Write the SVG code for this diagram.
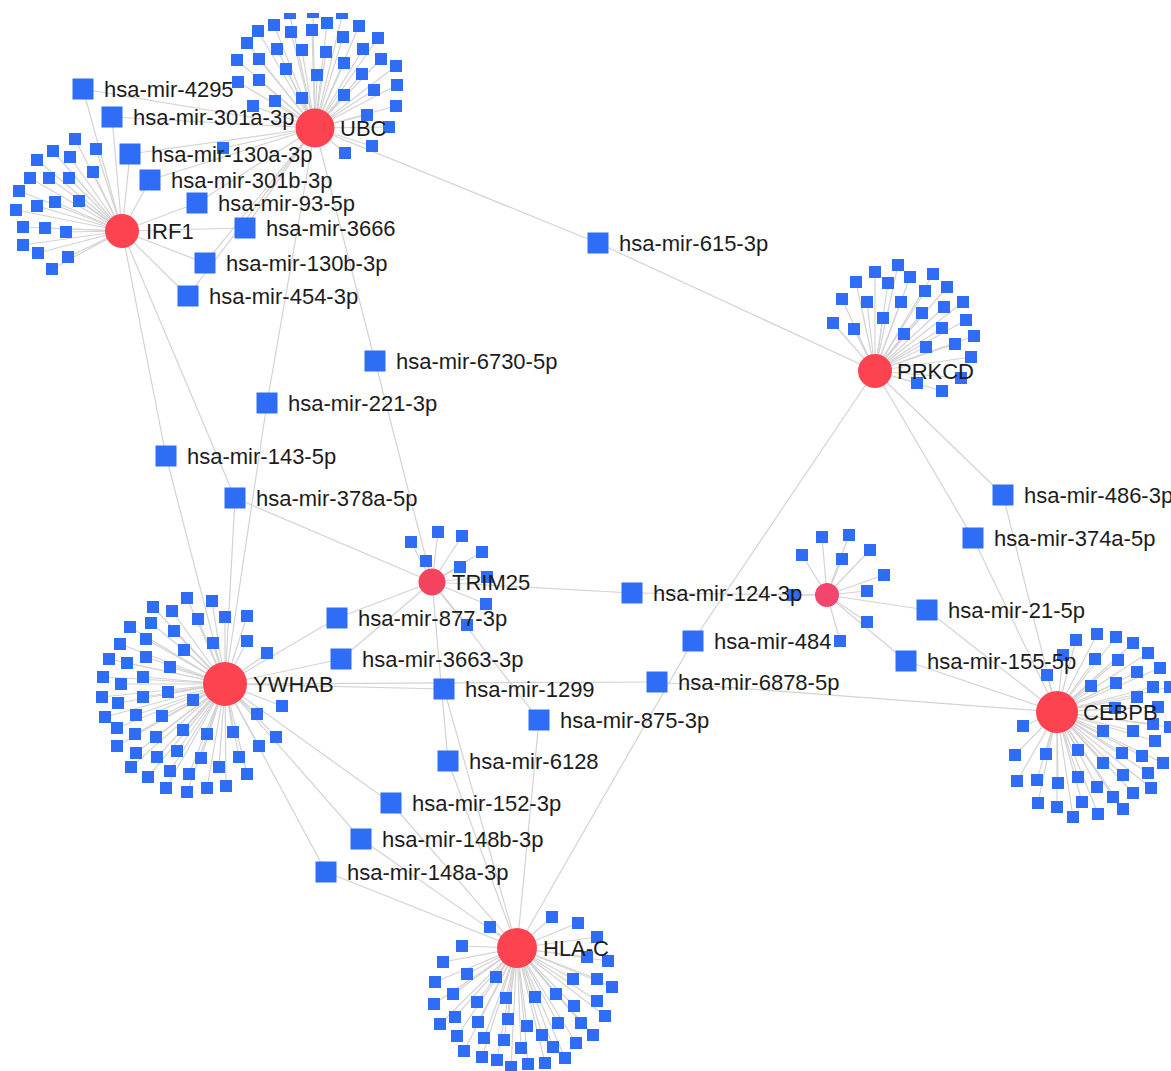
<svg xmlns="http://www.w3.org/2000/svg" xmlns:xlink="http://www.w3.org/1999/xlink" width="1171" height="1071" viewBox="0 0 1171 1071">
<style>
.e line{stroke:#d3d3d3;stroke-width:1.2}
.s{fill:#2f6df6}
.hub{fill:#fd434f}
.hub2{fill:#f3435f}
.hub3{fill:#f2466e}
text{font-family:"Liberation Sans",Arial,Helvetica,sans-serif;font-size:22px;fill:#1c1c1c}
</style>
<defs>
<rect id="sat" class="s" x="-6" y="-6" width="12" height="12"/>
<rect id="mir" class="s" x="-10.5" y="-10.5" width="21" height="21"/>
</defs>
<rect width="1171" height="1071" fill="#ffffff"/>

<!-- connectors -->
<g id="edges" class="e">
<!-- gene to labelled miRNA -->
<line x1="315" y1="128" x2="83" y2="89"/>
<line x1="315" y1="128" x2="112" y2="117"/>
<line x1="315" y1="128" x2="130" y2="154"/>
<line x1="315" y1="128" x2="150" y2="180"/>
<line x1="315" y1="128" x2="197" y2="203"/>
<line x1="315" y1="128" x2="245" y2="228"/>
<line x1="315" y1="128" x2="205" y2="263"/>
<line x1="315" y1="128" x2="188" y2="296"/>
<line x1="315" y1="128" x2="375" y2="361"/>
<line x1="315" y1="128" x2="267" y2="403"/>
<line x1="315" y1="128" x2="598" y2="243"/>
<line x1="122" y1="231" x2="83" y2="89"/>
<line x1="122" y1="231" x2="112" y2="117"/>
<line x1="122" y1="231" x2="130" y2="154"/>
<line x1="122" y1="231" x2="150" y2="180"/>
<line x1="122" y1="231" x2="197" y2="203"/>
<line x1="122" y1="231" x2="245" y2="228"/>
<line x1="122" y1="231" x2="205" y2="263"/>
<line x1="122" y1="231" x2="188" y2="296"/>
<line x1="122" y1="231" x2="166" y2="456"/>
<line x1="122" y1="231" x2="235" y2="498"/>
<line x1="875" y1="371" x2="598" y2="243"/>
<line x1="875" y1="371" x2="693" y2="641"/>
<line x1="875" y1="371" x2="1003" y2="495"/>
<line x1="875" y1="371" x2="973" y2="538"/>
<line x1="1057" y1="712" x2="1003" y2="495"/>
<line x1="1057" y1="712" x2="973" y2="538"/>
<line x1="1057" y1="712" x2="927" y2="610"/>
<line x1="1057" y1="712" x2="906" y2="661"/>
<line x1="1057" y1="712" x2="657" y2="682"/>
<line x1="827" y1="595" x2="632" y2="593"/>
<line x1="827" y1="595" x2="927" y2="610"/>
<line x1="827" y1="595" x2="906" y2="661"/>
<line x1="432" y1="582" x2="375" y2="361"/>
<line x1="432" y1="582" x2="235" y2="498"/>
<line x1="432" y1="582" x2="632" y2="593"/>
<line x1="432" y1="582" x2="337" y2="618"/>
<line x1="432" y1="582" x2="341" y2="659"/>
<line x1="432" y1="582" x2="448" y2="761"/>
<line x1="432" y1="582" x2="539" y2="720"/>
<line x1="225" y1="684" x2="267" y2="403"/>
<line x1="225" y1="684" x2="166" y2="456"/>
<line x1="225" y1="684" x2="235" y2="498"/>
<line x1="225" y1="684" x2="337" y2="618"/>
<line x1="225" y1="684" x2="341" y2="659"/>
<line x1="225" y1="684" x2="444" y2="689"/>
<line x1="225" y1="684" x2="657" y2="682"/>
<line x1="225" y1="684" x2="391" y2="803"/>
<line x1="225" y1="684" x2="361" y2="839"/>
<line x1="225" y1="684" x2="326" y2="872"/>
<line x1="517" y1="948" x2="693" y2="641"/>
<line x1="517" y1="948" x2="539" y2="720"/>
<line x1="517" y1="948" x2="444" y2="689"/>
<line x1="517" y1="948" x2="448" y2="761"/>
<line x1="517" y1="948" x2="391" y2="803"/>
<line x1="517" y1="948" x2="361" y2="839"/>
<line x1="517" y1="948" x2="326" y2="872"/>
<!-- UBC spokes -->
<line x1="315" y1="128" x2="290" y2="16"/>
<line x1="315" y1="128" x2="313" y2="15"/>
<line x1="315" y1="128" x2="342" y2="16"/>
<line x1="315" y1="128" x2="274" y2="25"/>
<line x1="315" y1="128" x2="258" y2="31"/>
<line x1="315" y1="128" x2="291" y2="32"/>
<line x1="315" y1="128" x2="312" y2="30"/>
<line x1="315" y1="128" x2="327" y2="23"/>
<line x1="315" y1="128" x2="359" y2="26"/>
<line x1="315" y1="128" x2="247" y2="43"/>
<line x1="315" y1="128" x2="277" y2="49"/>
<line x1="315" y1="128" x2="302" y2="50"/>
<line x1="315" y1="128" x2="326" y2="52"/>
<line x1="315" y1="128" x2="343" y2="37"/>
<line x1="315" y1="128" x2="363" y2="49"/>
<line x1="315" y1="128" x2="378" y2="38"/>
<line x1="315" y1="128" x2="237" y2="60"/>
<line x1="315" y1="128" x2="259" y2="59"/>
<line x1="315" y1="128" x2="286" y2="69"/>
<line x1="315" y1="128" x2="317" y2="75"/>
<line x1="315" y1="128" x2="344" y2="63"/>
<line x1="315" y1="128" x2="362" y2="74"/>
<line x1="315" y1="128" x2="381" y2="59"/>
<line x1="315" y1="128" x2="396" y2="66"/>
<line x1="315" y1="128" x2="238" y2="82"/>
<line x1="315" y1="128" x2="259" y2="80"/>
<line x1="315" y1="128" x2="275" y2="101"/>
<line x1="315" y1="128" x2="302" y2="98"/>
<line x1="315" y1="128" x2="344" y2="95"/>
<line x1="315" y1="128" x2="374" y2="90"/>
<line x1="315" y1="128" x2="397" y2="85"/>
<line x1="315" y1="128" x2="253" y2="106"/>
<line x1="315" y1="128" x2="367" y2="115"/>
<line x1="315" y1="128" x2="396" y2="106"/>
<line x1="315" y1="128" x2="389" y2="127"/>
<line x1="315" y1="128" x2="372" y2="146"/>
<line x1="315" y1="128" x2="345" y2="153"/>
<line x1="315" y1="128" x2="223" y2="148"/>
<!-- IRF1 spokes -->
<line x1="122" y1="231" x2="75" y2="139"/>
<line x1="122" y1="231" x2="96" y2="149"/>
<line x1="122" y1="231" x2="53" y2="151"/>
<line x1="122" y1="231" x2="70" y2="157"/>
<line x1="122" y1="231" x2="37" y2="160"/>
<line x1="122" y1="231" x2="93" y2="172"/>
<line x1="122" y1="231" x2="30" y2="178"/>
<line x1="122" y1="231" x2="49" y2="178"/>
<line x1="122" y1="231" x2="69" y2="178"/>
<line x1="122" y1="231" x2="19" y2="191"/>
<line x1="122" y1="231" x2="79" y2="201"/>
<line x1="122" y1="231" x2="55" y2="202"/>
<line x1="122" y1="231" x2="37" y2="206"/>
<line x1="122" y1="231" x2="16" y2="210"/>
<line x1="122" y1="231" x2="23" y2="227"/>
<line x1="122" y1="231" x2="45" y2="228"/>
<line x1="122" y1="231" x2="66" y2="232"/>
<line x1="122" y1="231" x2="23" y2="245"/>
<line x1="122" y1="231" x2="38" y2="253"/>
<line x1="122" y1="231" x2="68" y2="257"/>
<line x1="122" y1="231" x2="52" y2="269"/>
<!-- PRKCD spokes -->
<line x1="875" y1="371" x2="898" y2="265"/>
<line x1="875" y1="371" x2="875" y2="272"/>
<line x1="875" y1="371" x2="910" y2="277"/>
<line x1="875" y1="371" x2="933" y2="274"/>
<line x1="875" y1="371" x2="856" y2="282"/>
<line x1="875" y1="371" x2="888" y2="283"/>
<line x1="875" y1="371" x2="947" y2="287"/>
<line x1="875" y1="371" x2="925" y2="291"/>
<line x1="875" y1="371" x2="842" y2="299"/>
<line x1="875" y1="371" x2="867" y2="302"/>
<line x1="875" y1="371" x2="901" y2="302"/>
<line x1="875" y1="371" x2="963" y2="302"/>
<line x1="875" y1="371" x2="944" y2="307"/>
<line x1="875" y1="371" x2="922" y2="313"/>
<line x1="875" y1="371" x2="883" y2="318"/>
<line x1="875" y1="371" x2="966" y2="320"/>
<line x1="875" y1="371" x2="833" y2="323"/>
<line x1="875" y1="371" x2="854" y2="329"/>
<line x1="875" y1="371" x2="942" y2="328"/>
<line x1="875" y1="371" x2="904" y2="334"/>
<line x1="875" y1="371" x2="974" y2="336"/>
<line x1="875" y1="371" x2="955" y2="344"/>
<line x1="875" y1="371" x2="926" y2="347"/>
<line x1="875" y1="371" x2="971" y2="357"/>
<line x1="875" y1="371" x2="961" y2="378"/>
<line x1="875" y1="371" x2="917" y2="383"/>
<line x1="875" y1="371" x2="942" y2="391"/>
<!-- TRIM25 spokes -->
<line x1="432" y1="582" x2="411" y2="542"/>
<line x1="432" y1="582" x2="438" y2="532"/>
<line x1="432" y1="582" x2="462" y2="536"/>
<line x1="432" y1="582" x2="482" y2="552"/>
<line x1="432" y1="582" x2="426" y2="561"/>
<line x1="432" y1="582" x2="460" y2="567"/>
<line x1="432" y1="582" x2="487" y2="577"/>
<line x1="432" y1="582" x2="486" y2="604"/>
<line x1="432" y1="582" x2="467" y2="625"/>
<!-- unlabelled hub spokes -->
<line x1="827" y1="595" x2="822" y2="537"/>
<line x1="827" y1="595" x2="849" y2="535"/>
<line x1="827" y1="595" x2="802" y2="555"/>
<line x1="827" y1="595" x2="870" y2="550"/>
<line x1="827" y1="595" x2="842" y2="559"/>
<line x1="827" y1="595" x2="884" y2="575"/>
<line x1="827" y1="595" x2="867" y2="591"/>
<line x1="827" y1="595" x2="793" y2="595"/>
<line x1="827" y1="595" x2="867" y2="622"/>
<line x1="827" y1="595" x2="840" y2="641"/>
<!-- YWHAB spokes -->
<line x1="225" y1="684" x2="187" y2="598"/>
<line x1="225" y1="684" x2="212" y2="601"/>
<line x1="225" y1="684" x2="153" y2="607"/>
<line x1="225" y1="684" x2="172" y2="611"/>
<line x1="225" y1="684" x2="198" y2="619"/>
<line x1="225" y1="684" x2="225" y2="617"/>
<line x1="225" y1="684" x2="247" y2="616"/>
<line x1="225" y1="684" x2="130" y2="627"/>
<line x1="225" y1="684" x2="151" y2="623"/>
<line x1="225" y1="684" x2="174" y2="631"/>
<line x1="225" y1="684" x2="146" y2="639"/>
<line x1="225" y1="684" x2="120" y2="644"/>
<line x1="225" y1="684" x2="213" y2="643"/>
<line x1="225" y1="684" x2="247" y2="641"/>
<line x1="225" y1="684" x2="184" y2="650"/>
<line x1="225" y1="684" x2="267" y2="653"/>
<line x1="225" y1="684" x2="109" y2="659"/>
<line x1="225" y1="684" x2="127" y2="663"/>
<line x1="225" y1="684" x2="146" y2="657"/>
<line x1="225" y1="684" x2="170" y2="667"/>
<line x1="225" y1="684" x2="103" y2="677"/>
<line x1="225" y1="684" x2="121" y2="684"/>
<line x1="225" y1="684" x2="143" y2="677"/>
<line x1="225" y1="684" x2="168" y2="692"/>
<line x1="225" y1="684" x2="193" y2="700"/>
<line x1="225" y1="684" x2="102" y2="697"/>
<line x1="225" y1="684" x2="118" y2="703"/>
<line x1="225" y1="684" x2="143" y2="697"/>
<line x1="225" y1="684" x2="282" y2="706"/>
<line x1="225" y1="684" x2="257" y2="714"/>
<line x1="225" y1="684" x2="105" y2="717"/>
<line x1="225" y1="684" x2="136" y2="715"/>
<line x1="225" y1="684" x2="162" y2="716"/>
<line x1="225" y1="684" x2="117" y2="728"/>
<line x1="225" y1="684" x2="183" y2="730"/>
<line x1="225" y1="684" x2="207" y2="734"/>
<line x1="225" y1="684" x2="233" y2="732"/>
<line x1="225" y1="684" x2="276" y2="737"/>
<line x1="225" y1="684" x2="135" y2="734"/>
<line x1="225" y1="684" x2="156" y2="737"/>
<line x1="225" y1="684" x2="117" y2="746"/>
<line x1="225" y1="684" x2="259" y2="746"/>
<line x1="225" y1="684" x2="136" y2="753"/>
<line x1="225" y1="684" x2="157" y2="757"/>
<line x1="225" y1="684" x2="177" y2="751"/>
<line x1="225" y1="684" x2="201" y2="758"/>
<line x1="225" y1="684" x2="239" y2="757"/>
<line x1="225" y1="684" x2="131" y2="767"/>
<line x1="225" y1="684" x2="170" y2="771"/>
<line x1="225" y1="684" x2="219" y2="767"/>
<line x1="225" y1="684" x2="148" y2="777"/>
<line x1="225" y1="684" x2="189" y2="774"/>
<line x1="225" y1="684" x2="247" y2="774"/>
<line x1="225" y1="684" x2="166" y2="788"/>
<line x1="225" y1="684" x2="187" y2="792"/>
<line x1="225" y1="684" x2="207" y2="788"/>
<line x1="225" y1="684" x2="226" y2="786"/>
<!-- CEBPB spokes -->
<line x1="1057" y1="712" x2="1097" y2="634"/>
<line x1="1057" y1="712" x2="1076" y2="640"/>
<line x1="1057" y1="712" x2="1116" y2="637"/>
<line x1="1057" y1="712" x2="1133" y2="643"/>
<line x1="1057" y1="712" x2="1148" y2="653"/>
<line x1="1057" y1="712" x2="1063" y2="655"/>
<line x1="1057" y1="712" x2="1095" y2="659"/>
<line x1="1057" y1="712" x2="1118" y2="660"/>
<line x1="1057" y1="712" x2="1160" y2="668"/>
<line x1="1057" y1="712" x2="1137" y2="672"/>
<line x1="1057" y1="712" x2="1047" y2="675"/>
<line x1="1057" y1="712" x2="1091" y2="686"/>
<line x1="1057" y1="712" x2="1116" y2="683"/>
<line x1="1057" y1="712" x2="1153" y2="687"/>
<line x1="1057" y1="712" x2="1170" y2="687"/>
<line x1="1057" y1="712" x2="1137" y2="697"/>
<line x1="1057" y1="712" x2="1115" y2="708"/>
<line x1="1057" y1="712" x2="1158" y2="707"/>
<line x1="1057" y1="712" x2="1153" y2="724"/>
<line x1="1057" y1="712" x2="1103" y2="731"/>
<line x1="1057" y1="712" x2="1133" y2="731"/>
<line x1="1057" y1="712" x2="1170" y2="727"/>
<line x1="1057" y1="712" x2="1023" y2="726"/>
<line x1="1057" y1="712" x2="1155" y2="741"/>
<line x1="1057" y1="712" x2="1078" y2="750"/>
<line x1="1057" y1="712" x2="1046" y2="754"/>
<line x1="1057" y1="712" x2="1122" y2="753"/>
<line x1="1057" y1="712" x2="1142" y2="756"/>
<line x1="1057" y1="712" x2="1015" y2="755"/>
<line x1="1057" y1="712" x2="1163" y2="763"/>
<line x1="1057" y1="712" x2="1103" y2="763"/>
<line x1="1057" y1="712" x2="1123" y2="775"/>
<line x1="1057" y1="712" x2="1148" y2="773"/>
<line x1="1057" y1="712" x2="1078" y2="777"/>
<line x1="1057" y1="712" x2="1037" y2="780"/>
<line x1="1057" y1="712" x2="1017" y2="781"/>
<line x1="1057" y1="712" x2="1058" y2="783"/>
<line x1="1057" y1="712" x2="1097" y2="787"/>
<line x1="1057" y1="712" x2="1133" y2="793"/>
<line x1="1057" y1="712" x2="1151" y2="788"/>
<line x1="1057" y1="712" x2="1113" y2="797"/>
<line x1="1057" y1="712" x2="1082" y2="802"/>
<line x1="1057" y1="712" x2="1038" y2="803"/>
<line x1="1057" y1="712" x2="1057" y2="807"/>
<line x1="1057" y1="712" x2="1123" y2="809"/>
<line x1="1057" y1="712" x2="1098" y2="814"/>
<line x1="1057" y1="712" x2="1073" y2="817"/>
<!-- HLA-C spokes -->
<line x1="517" y1="948" x2="552" y2="917"/>
<line x1="517" y1="948" x2="578" y2="923"/>
<line x1="517" y1="948" x2="490" y2="927"/>
<line x1="517" y1="948" x2="597" y2="937"/>
<line x1="517" y1="948" x2="462" y2="946"/>
<line x1="517" y1="948" x2="587" y2="957"/>
<line x1="517" y1="948" x2="608" y2="961"/>
<line x1="517" y1="948" x2="443" y2="962"/>
<line x1="517" y1="948" x2="467" y2="974"/>
<line x1="517" y1="948" x2="496" y2="977"/>
<line x1="517" y1="948" x2="573" y2="979"/>
<line x1="517" y1="948" x2="597" y2="979"/>
<line x1="517" y1="948" x2="435" y2="982"/>
<line x1="517" y1="948" x2="612" y2="987"/>
<line x1="517" y1="948" x2="453" y2="994"/>
<line x1="517" y1="948" x2="556" y2="994"/>
<line x1="517" y1="948" x2="506" y2="998"/>
<line x1="517" y1="948" x2="535" y2="997"/>
<line x1="517" y1="948" x2="477" y2="1002"/>
<line x1="517" y1="948" x2="434" y2="1004"/>
<line x1="517" y1="948" x2="597" y2="1001"/>
<line x1="517" y1="948" x2="574" y2="1006"/>
<line x1="517" y1="948" x2="605" y2="1016"/>
<line x1="517" y1="948" x2="455" y2="1017"/>
<line x1="517" y1="948" x2="508" y2="1019"/>
<line x1="517" y1="948" x2="478" y2="1022"/>
<line x1="517" y1="948" x2="527" y2="1026"/>
<line x1="517" y1="948" x2="558" y2="1023"/>
<line x1="517" y1="948" x2="581" y2="1023"/>
<line x1="517" y1="948" x2="440" y2="1024"/>
<line x1="517" y1="948" x2="457" y2="1036"/>
<line x1="517" y1="948" x2="542" y2="1035"/>
<line x1="517" y1="948" x2="593" y2="1035"/>
<line x1="517" y1="948" x2="484" y2="1038"/>
<line x1="517" y1="948" x2="504" y2="1040"/>
<line x1="517" y1="948" x2="464" y2="1051"/>
<line x1="517" y1="948" x2="521" y2="1048"/>
<line x1="517" y1="948" x2="553" y2="1047"/>
<line x1="517" y1="948" x2="576" y2="1043"/>
<line x1="517" y1="948" x2="482" y2="1057"/>
<line x1="517" y1="948" x2="497" y2="1060"/>
<line x1="517" y1="948" x2="528" y2="1064"/>
<line x1="517" y1="948" x2="545" y2="1063"/>
<line x1="517" y1="948" x2="565" y2="1058"/>
<line x1="517" y1="948" x2="511" y2="1067"/>
</g>

<!-- single-target miRNAs around each hub -->
<g id="ubc-targets">
<g id="ubc-t01"><rect class="s" x="284" y="13" width="12" height="6"/></g>
<g id="ubc-t02"><rect class="s" x="307" y="13" width="12" height="5"/></g>
<g id="ubc-t03"><rect class="s" x="336" y="13" width="12" height="6"/></g>
<g id="ubc-t04"><use href="#sat" x="274" y="25"/></g>
<g id="ubc-t05"><use href="#sat" x="258" y="31"/></g>
<g id="ubc-t06"><use href="#sat" x="291" y="32"/></g>
<g id="ubc-t07"><use href="#sat" x="312" y="30"/></g>
<g id="ubc-t08"><use href="#sat" x="327" y="23"/></g>
<g id="ubc-t09"><use href="#sat" x="359" y="26"/></g>
<g id="ubc-t10"><use href="#sat" x="247" y="43"/></g>
<g id="ubc-t11"><use href="#sat" x="277" y="49"/></g>
<g id="ubc-t12"><use href="#sat" x="302" y="50"/></g>
<g id="ubc-t13"><use href="#sat" x="326" y="52"/></g>
<g id="ubc-t14"><use href="#sat" x="343" y="37"/></g>
<g id="ubc-t15"><use href="#sat" x="363" y="49"/></g>
<g id="ubc-t16"><use href="#sat" x="378" y="38"/></g>
<g id="ubc-t17"><use href="#sat" x="237" y="60"/></g>
<g id="ubc-t18"><use href="#sat" x="259" y="59"/></g>
<g id="ubc-t19"><use href="#sat" x="286" y="69"/></g>
<g id="ubc-t20"><use href="#sat" x="317" y="75"/></g>
<g id="ubc-t21"><use href="#sat" x="344" y="63"/></g>
<g id="ubc-t22"><use href="#sat" x="362" y="74"/></g>
<g id="ubc-t23"><use href="#sat" x="381" y="59"/></g>
<g id="ubc-t24"><use href="#sat" x="396" y="66"/></g>
<g id="ubc-t25"><use href="#sat" x="238" y="82"/></g>
<g id="ubc-t26"><use href="#sat" x="259" y="80"/></g>
<g id="ubc-t27"><use href="#sat" x="275" y="101"/></g>
<g id="ubc-t28"><use href="#sat" x="302" y="98"/></g>
<g id="ubc-t29"><use href="#sat" x="344" y="95"/></g>
<g id="ubc-t30"><use href="#sat" x="374" y="90"/></g>
<g id="ubc-t31"><use href="#sat" x="397" y="85"/></g>
<g id="ubc-t32"><use href="#sat" x="253" y="106"/></g>
<g id="ubc-t33"><use href="#sat" x="367" y="115"/></g>
<g id="ubc-t34"><use href="#sat" x="396" y="106"/></g>
<g id="ubc-t35"><use href="#sat" x="389" y="127"/></g>
<g id="ubc-t36"><use href="#sat" x="372" y="146"/></g>
<g id="ubc-t37"><use href="#sat" x="345" y="153"/></g>
<g id="ubc-t38"><use href="#sat" x="223" y="148"/></g>
</g>

<g id="irf1-targets">
<g id="irf1-t01"><use href="#sat" x="75" y="139"/></g>
<g id="irf1-t02"><use href="#sat" x="96" y="149"/></g>
<g id="irf1-t03"><use href="#sat" x="53" y="151"/></g>
<g id="irf1-t04"><use href="#sat" x="70" y="157"/></g>
<g id="irf1-t05"><use href="#sat" x="37" y="160"/></g>
<g id="irf1-t06"><use href="#sat" x="93" y="172"/></g>
<g id="irf1-t07"><use href="#sat" x="30" y="178"/></g>
<g id="irf1-t08"><use href="#sat" x="49" y="178"/></g>
<g id="irf1-t09"><use href="#sat" x="69" y="178"/></g>
<g id="irf1-t10"><use href="#sat" x="19" y="191"/></g>
<g id="irf1-t11"><use href="#sat" x="79" y="201"/></g>
<g id="irf1-t12"><use href="#sat" x="55" y="202"/></g>
<g id="irf1-t13"><use href="#sat" x="37" y="206"/></g>
<g id="irf1-t14"><use href="#sat" x="16" y="210"/></g>
<g id="irf1-t15"><use href="#sat" x="23" y="227"/></g>
<g id="irf1-t16"><use href="#sat" x="45" y="228"/></g>
<g id="irf1-t17"><use href="#sat" x="66" y="232"/></g>
<g id="irf1-t18"><use href="#sat" x="23" y="245"/></g>
<g id="irf1-t19"><use href="#sat" x="38" y="253"/></g>
<g id="irf1-t20"><use href="#sat" x="68" y="257"/></g>
<g id="irf1-t21"><use href="#sat" x="52" y="269"/></g>
</g>

<g id="prkcd-targets">
<g id="prkcd-t01"><use href="#sat" x="898" y="265"/></g>
<g id="prkcd-t02"><use href="#sat" x="875" y="272"/></g>
<g id="prkcd-t03"><use href="#sat" x="910" y="277"/></g>
<g id="prkcd-t04"><use href="#sat" x="933" y="274"/></g>
<g id="prkcd-t05"><use href="#sat" x="856" y="282"/></g>
<g id="prkcd-t06"><use href="#sat" x="888" y="283"/></g>
<g id="prkcd-t07"><use href="#sat" x="947" y="287"/></g>
<g id="prkcd-t08"><use href="#sat" x="925" y="291"/></g>
<g id="prkcd-t09"><use href="#sat" x="842" y="299"/></g>
<g id="prkcd-t10"><use href="#sat" x="867" y="302"/></g>
<g id="prkcd-t11"><use href="#sat" x="901" y="302"/></g>
<g id="prkcd-t12"><use href="#sat" x="963" y="302"/></g>
<g id="prkcd-t13"><use href="#sat" x="944" y="307"/></g>
<g id="prkcd-t14"><use href="#sat" x="922" y="313"/></g>
<g id="prkcd-t15"><use href="#sat" x="883" y="318"/></g>
<g id="prkcd-t16"><use href="#sat" x="966" y="320"/></g>
<g id="prkcd-t17"><use href="#sat" x="833" y="323"/></g>
<g id="prkcd-t18"><use href="#sat" x="854" y="329"/></g>
<g id="prkcd-t19"><use href="#sat" x="942" y="328"/></g>
<g id="prkcd-t20"><use href="#sat" x="904" y="334"/></g>
<g id="prkcd-t21"><use href="#sat" x="974" y="336"/></g>
<g id="prkcd-t22"><use href="#sat" x="955" y="344"/></g>
<g id="prkcd-t23"><use href="#sat" x="926" y="347"/></g>
<g id="prkcd-t24"><use href="#sat" x="971" y="357"/></g>
<g id="prkcd-t25"><use href="#sat" x="961" y="378"/></g>
<g id="prkcd-t26"><use href="#sat" x="917" y="383"/></g>
<g id="prkcd-t27"><use href="#sat" x="942" y="391"/></g>
</g>

<g id="trim25-targets">
<g id="trim25-t1"><use href="#sat" x="411" y="542"/></g>
<g id="trim25-t2"><use href="#sat" x="438" y="532"/></g>
<g id="trim25-t3"><use href="#sat" x="462" y="536"/></g>
<g id="trim25-t4"><use href="#sat" x="482" y="552"/></g>
<g id="trim25-t5"><use href="#sat" x="426" y="561"/></g>
<g id="trim25-t6"><use href="#sat" x="460" y="567"/></g>
<g id="trim25-t7"><use href="#sat" x="487" y="577"/></g>
<g id="trim25-t8"><use href="#sat" x="486" y="604"/></g>
<g id="trim25-t9"><use href="#sat" x="467" y="625"/></g>
</g>

<g id="hub-unlabelled-targets">
<g id="hubu-t01"><use href="#sat" x="822" y="537"/></g>
<g id="hubu-t02"><use href="#sat" x="849" y="535"/></g>
<g id="hubu-t03"><use href="#sat" x="802" y="555"/></g>
<g id="hubu-t04"><use href="#sat" x="870" y="550"/></g>
<g id="hubu-t05"><use href="#sat" x="842" y="559"/></g>
<g id="hubu-t06"><use href="#sat" x="884" y="575"/></g>
<g id="hubu-t07"><use href="#sat" x="867" y="591"/></g>
<g id="hubu-t08"><use href="#sat" x="793" y="595"/></g>
<g id="hubu-t09"><use href="#sat" x="867" y="622"/></g>
<g id="hubu-t10"><use href="#sat" x="840" y="641"/></g>
</g>

<g id="ywhab-targets">
<g id="ywhab-t01"><use href="#sat" x="187" y="598"/></g>
<g id="ywhab-t02"><use href="#sat" x="212" y="601"/></g>
<g id="ywhab-t03"><use href="#sat" x="153" y="607"/></g>
<g id="ywhab-t04"><use href="#sat" x="172" y="611"/></g>
<g id="ywhab-t05"><use href="#sat" x="198" y="619"/></g>
<g id="ywhab-t06"><use href="#sat" x="225" y="617"/></g>
<g id="ywhab-t07"><use href="#sat" x="247" y="616"/></g>
<g id="ywhab-t08"><use href="#sat" x="130" y="627"/></g>
<g id="ywhab-t09"><use href="#sat" x="151" y="623"/></g>
<g id="ywhab-t10"><use href="#sat" x="174" y="631"/></g>
<g id="ywhab-t11"><use href="#sat" x="146" y="639"/></g>
<g id="ywhab-t12"><use href="#sat" x="120" y="644"/></g>
<g id="ywhab-t13"><use href="#sat" x="213" y="643"/></g>
<g id="ywhab-t14"><use href="#sat" x="247" y="641"/></g>
<g id="ywhab-t15"><use href="#sat" x="184" y="650"/></g>
<g id="ywhab-t16"><use href="#sat" x="267" y="653"/></g>
<g id="ywhab-t17"><use href="#sat" x="109" y="659"/></g>
<g id="ywhab-t18"><use href="#sat" x="127" y="663"/></g>
<g id="ywhab-t19"><use href="#sat" x="146" y="657"/></g>
<g id="ywhab-t20"><use href="#sat" x="170" y="667"/></g>
<g id="ywhab-t21"><use href="#sat" x="103" y="677"/></g>
<g id="ywhab-t22"><use href="#sat" x="121" y="684"/></g>
<g id="ywhab-t23"><use href="#sat" x="143" y="677"/></g>
<g id="ywhab-t24"><use href="#sat" x="168" y="692"/></g>
<g id="ywhab-t25"><use href="#sat" x="193" y="700"/></g>
<g id="ywhab-t26"><use href="#sat" x="102" y="697"/></g>
<g id="ywhab-t27"><use href="#sat" x="118" y="703"/></g>
<g id="ywhab-t28"><use href="#sat" x="143" y="697"/></g>
<g id="ywhab-t29"><use href="#sat" x="282" y="706"/></g>
<g id="ywhab-t30"><use href="#sat" x="257" y="714"/></g>
<g id="ywhab-t31"><use href="#sat" x="105" y="717"/></g>
<g id="ywhab-t32"><use href="#sat" x="136" y="715"/></g>
<g id="ywhab-t33"><use href="#sat" x="162" y="716"/></g>
<g id="ywhab-t34"><use href="#sat" x="117" y="728"/></g>
<g id="ywhab-t35"><use href="#sat" x="183" y="730"/></g>
<g id="ywhab-t36"><use href="#sat" x="207" y="734"/></g>
<g id="ywhab-t37"><use href="#sat" x="233" y="732"/></g>
<g id="ywhab-t38"><use href="#sat" x="276" y="737"/></g>
<g id="ywhab-t39"><use href="#sat" x="135" y="734"/></g>
<g id="ywhab-t40"><use href="#sat" x="156" y="737"/></g>
<g id="ywhab-t41"><use href="#sat" x="117" y="746"/></g>
<g id="ywhab-t42"><use href="#sat" x="259" y="746"/></g>
<g id="ywhab-t43"><use href="#sat" x="136" y="753"/></g>
<g id="ywhab-t44"><use href="#sat" x="157" y="757"/></g>
<g id="ywhab-t45"><use href="#sat" x="177" y="751"/></g>
<g id="ywhab-t46"><use href="#sat" x="201" y="758"/></g>
<g id="ywhab-t47"><use href="#sat" x="239" y="757"/></g>
<g id="ywhab-t48"><use href="#sat" x="131" y="767"/></g>
<g id="ywhab-t49"><use href="#sat" x="170" y="771"/></g>
<g id="ywhab-t50"><use href="#sat" x="219" y="767"/></g>
<g id="ywhab-t51"><use href="#sat" x="148" y="777"/></g>
<g id="ywhab-t52"><use href="#sat" x="189" y="774"/></g>
<g id="ywhab-t53"><use href="#sat" x="247" y="774"/></g>
<g id="ywhab-t54"><use href="#sat" x="166" y="788"/></g>
<g id="ywhab-t55"><use href="#sat" x="187" y="792"/></g>
<g id="ywhab-t56"><use href="#sat" x="207" y="788"/></g>
<g id="ywhab-t57"><use href="#sat" x="226" y="786"/></g>
</g>

<g id="cebpb-targets">
<g id="cebpb-t01"><use href="#sat" x="1097" y="634"/></g>
<g id="cebpb-t02"><use href="#sat" x="1076" y="640"/></g>
<g id="cebpb-t03"><use href="#sat" x="1116" y="637"/></g>
<g id="cebpb-t04"><use href="#sat" x="1133" y="643"/></g>
<g id="cebpb-t05"><use href="#sat" x="1148" y="653"/></g>
<g id="cebpb-t06"><use href="#sat" x="1063" y="655"/></g>
<g id="cebpb-t07"><use href="#sat" x="1095" y="659"/></g>
<g id="cebpb-t08"><use href="#sat" x="1118" y="660"/></g>
<g id="cebpb-t09"><use href="#sat" x="1160" y="668"/></g>
<g id="cebpb-t10"><use href="#sat" x="1137" y="672"/></g>
<g id="cebpb-t11"><use href="#sat" x="1047" y="675"/></g>
<g id="cebpb-t12"><use href="#sat" x="1091" y="686"/></g>
<g id="cebpb-t13"><use href="#sat" x="1116" y="683"/></g>
<g id="cebpb-t14"><use href="#sat" x="1153" y="687"/></g>
<g id="cebpb-t15"><use href="#sat" x="1170" y="687"/></g>
<g id="cebpb-t16"><use href="#sat" x="1137" y="697"/></g>
<g id="cebpb-t17"><use href="#sat" x="1115" y="708"/></g>
<g id="cebpb-t18"><use href="#sat" x="1158" y="707"/></g>
<g id="cebpb-t19"><use href="#sat" x="1153" y="724"/></g>
<g id="cebpb-t20"><use href="#sat" x="1103" y="731"/></g>
<g id="cebpb-t21"><use href="#sat" x="1133" y="731"/></g>
<g id="cebpb-t22"><use href="#sat" x="1170" y="727"/></g>
<g id="cebpb-t23"><use href="#sat" x="1023" y="726"/></g>
<g id="cebpb-t24"><use href="#sat" x="1155" y="741"/></g>
<g id="cebpb-t25"><use href="#sat" x="1078" y="750"/></g>
<g id="cebpb-t26"><use href="#sat" x="1046" y="754"/></g>
<g id="cebpb-t27"><use href="#sat" x="1122" y="753"/></g>
<g id="cebpb-t28"><use href="#sat" x="1142" y="756"/></g>
<g id="cebpb-t29"><use href="#sat" x="1015" y="755"/></g>
<g id="cebpb-t30"><use href="#sat" x="1163" y="763"/></g>
<g id="cebpb-t31"><use href="#sat" x="1103" y="763"/></g>
<g id="cebpb-t32"><use href="#sat" x="1123" y="775"/></g>
<g id="cebpb-t33"><use href="#sat" x="1148" y="773"/></g>
<g id="cebpb-t34"><use href="#sat" x="1078" y="777"/></g>
<g id="cebpb-t35"><use href="#sat" x="1037" y="780"/></g>
<g id="cebpb-t36"><use href="#sat" x="1017" y="781"/></g>
<g id="cebpb-t37"><use href="#sat" x="1058" y="783"/></g>
<g id="cebpb-t38"><use href="#sat" x="1097" y="787"/></g>
<g id="cebpb-t39"><use href="#sat" x="1133" y="793"/></g>
<g id="cebpb-t40"><use href="#sat" x="1151" y="788"/></g>
<g id="cebpb-t41"><use href="#sat" x="1113" y="797"/></g>
<g id="cebpb-t42"><use href="#sat" x="1082" y="802"/></g>
<g id="cebpb-t43"><use href="#sat" x="1038" y="803"/></g>
<g id="cebpb-t44"><use href="#sat" x="1057" y="807"/></g>
<g id="cebpb-t45"><use href="#sat" x="1123" y="809"/></g>
<g id="cebpb-t46"><use href="#sat" x="1098" y="814"/></g>
<g id="cebpb-t47"><use href="#sat" x="1073" y="817"/></g>
</g>

<g id="hlac-targets">
<g id="hlac-t01"><use href="#sat" x="552" y="917"/></g>
<g id="hlac-t02"><use href="#sat" x="578" y="923"/></g>
<g id="hlac-t03"><use href="#sat" x="490" y="927"/></g>
<g id="hlac-t04"><use href="#sat" x="597" y="937"/></g>
<g id="hlac-t05"><use href="#sat" x="462" y="946"/></g>
<g id="hlac-t06"><use href="#sat" x="587" y="957"/></g>
<g id="hlac-t07"><use href="#sat" x="608" y="961"/></g>
<g id="hlac-t08"><use href="#sat" x="443" y="962"/></g>
<g id="hlac-t09"><use href="#sat" x="467" y="974"/></g>
<g id="hlac-t10"><use href="#sat" x="496" y="977"/></g>
<g id="hlac-t11"><use href="#sat" x="573" y="979"/></g>
<g id="hlac-t12"><use href="#sat" x="597" y="979"/></g>
<g id="hlac-t13"><use href="#sat" x="435" y="982"/></g>
<g id="hlac-t14"><use href="#sat" x="612" y="987"/></g>
<g id="hlac-t15"><use href="#sat" x="453" y="994"/></g>
<g id="hlac-t16"><use href="#sat" x="556" y="994"/></g>
<g id="hlac-t17"><use href="#sat" x="506" y="998"/></g>
<g id="hlac-t18"><use href="#sat" x="535" y="997"/></g>
<g id="hlac-t19"><use href="#sat" x="477" y="1002"/></g>
<g id="hlac-t20"><use href="#sat" x="434" y="1004"/></g>
<g id="hlac-t21"><use href="#sat" x="597" y="1001"/></g>
<g id="hlac-t22"><use href="#sat" x="574" y="1006"/></g>
<g id="hlac-t23"><use href="#sat" x="605" y="1016"/></g>
<g id="hlac-t24"><use href="#sat" x="455" y="1017"/></g>
<g id="hlac-t25"><use href="#sat" x="508" y="1019"/></g>
<g id="hlac-t26"><use href="#sat" x="478" y="1022"/></g>
<g id="hlac-t27"><use href="#sat" x="527" y="1026"/></g>
<g id="hlac-t28"><use href="#sat" x="558" y="1023"/></g>
<g id="hlac-t29"><use href="#sat" x="581" y="1023"/></g>
<g id="hlac-t30"><use href="#sat" x="440" y="1024"/></g>
<g id="hlac-t31"><use href="#sat" x="457" y="1036"/></g>
<g id="hlac-t32"><use href="#sat" x="542" y="1035"/></g>
<g id="hlac-t33"><use href="#sat" x="593" y="1035"/></g>
<g id="hlac-t34"><use href="#sat" x="484" y="1038"/></g>
<g id="hlac-t35"><use href="#sat" x="504" y="1040"/></g>
<g id="hlac-t36"><use href="#sat" x="464" y="1051"/></g>
<g id="hlac-t37"><use href="#sat" x="521" y="1048"/></g>
<g id="hlac-t38"><use href="#sat" x="553" y="1047"/></g>
<g id="hlac-t39"><use href="#sat" x="576" y="1043"/></g>
<g id="hlac-t40"><use href="#sat" x="482" y="1057"/></g>
<g id="hlac-t41"><use href="#sat" x="497" y="1060"/></g>
<g id="hlac-t42"><use href="#sat" x="528" y="1064"/></g>
<g id="hlac-t43"><use href="#sat" x="545" y="1063"/></g>
<g id="hlac-t44"><use href="#sat" x="565" y="1058"/></g>
<g id="hlac-t45"><use href="#sat" x="511" y="1067"/></g>
</g>

<!-- shared miRNAs (labelled) -->
<g id="hsa-mir-4295"><use href="#mir" x="83" y="89"/><text x="104" y="96.5">hsa-mir-4295</text></g>
<g id="hsa-mir-301a-3p"><use href="#mir" x="112" y="117"/><text x="133" y="124.5">hsa-mir-301a-3p</text></g>
<g id="hsa-mir-130a-3p"><use href="#mir" x="130" y="154"/><text x="151" y="161.5">hsa-mir-130a-3p</text></g>
<g id="hsa-mir-301b-3p"><use href="#mir" x="150" y="180"/><text x="171" y="187.5">hsa-mir-301b-3p</text></g>
<g id="hsa-mir-93-5p"><use href="#mir" x="197" y="203"/><text x="218" y="210.5">hsa-mir-93-5p</text></g>
<g id="hsa-mir-3666"><use href="#mir" x="245" y="228"/><text x="266" y="235.5">hsa-mir-3666</text></g>
<g id="hsa-mir-130b-3p"><use href="#mir" x="205" y="263"/><text x="226" y="270.5">hsa-mir-130b-3p</text></g>
<g id="hsa-mir-454-3p"><use href="#mir" x="188" y="296"/><text x="209" y="303.5">hsa-mir-454-3p</text></g>
<g id="hsa-mir-615-3p"><use href="#mir" x="598" y="243"/><text x="619" y="250.5">hsa-mir-615-3p</text></g>
<g id="hsa-mir-6730-5p"><use href="#mir" x="375" y="361"/><text x="396" y="368.5">hsa-mir-6730-5p</text></g>
<g id="hsa-mir-221-3p"><use href="#mir" x="267" y="403"/><text x="288" y="410.5">hsa-mir-221-3p</text></g>
<g id="hsa-mir-143-5p"><use href="#mir" x="166" y="456"/><text x="187" y="463.5">hsa-mir-143-5p</text></g>
<g id="hsa-mir-378a-5p"><use href="#mir" x="235" y="498"/><text x="256" y="505.5">hsa-mir-378a-5p</text></g>
<g id="hsa-mir-486-3p"><use href="#mir" x="1003" y="495"/><text x="1024" y="502.5">hsa-mir-486-3p</text></g>
<g id="hsa-mir-374a-5p"><use href="#mir" x="973" y="538"/><text x="994" y="545.5">hsa-mir-374a-5p</text></g>
<g id="hsa-mir-124-3p"><use href="#mir" x="632" y="593"/><text x="653" y="600.5">hsa-mir-124-3p</text></g>
<g id="hsa-mir-21-5p"><use href="#mir" x="927" y="610"/><text x="948" y="617.5">hsa-mir-21-5p</text></g>
<g id="hsa-mir-484"><use href="#mir" x="693" y="641"/><text x="714" y="648.5">hsa-mir-484</text></g>
<g id="hsa-mir-155-5p"><use href="#mir" x="906" y="661"/><text x="927" y="668.5">hsa-mir-155-5p</text></g>
<g id="hsa-mir-877-3p"><use href="#mir" x="337" y="618"/><text x="358" y="625.5">hsa-mir-877-3p</text></g>
<g id="hsa-mir-3663-3p"><use href="#mir" x="341" y="659"/><text x="362" y="666.5">hsa-mir-3663-3p</text></g>
<g id="hsa-mir-1299"><use href="#mir" x="444" y="689"/><text x="465" y="696.5">hsa-mir-1299</text></g>
<g id="hsa-mir-6878-5p"><use href="#mir" x="657" y="682"/><text x="678" y="689.5">hsa-mir-6878-5p</text></g>
<g id="hsa-mir-875-3p"><use href="#mir" x="539" y="720"/><text x="560" y="727.5">hsa-mir-875-3p</text></g>
<g id="hsa-mir-6128"><use href="#mir" x="448" y="761"/><text x="469" y="768.5">hsa-mir-6128</text></g>
<g id="hsa-mir-152-3p"><use href="#mir" x="391" y="803"/><text x="412" y="810.5">hsa-mir-152-3p</text></g>
<g id="hsa-mir-148b-3p"><use href="#mir" x="361" y="839"/><text x="382" y="846.5">hsa-mir-148b-3p</text></g>
<g id="hsa-mir-148a-3p"><use href="#mir" x="326" y="872"/><text x="347" y="879.5">hsa-mir-148a-3p</text></g>

<!-- gene hubs -->
<g id="UBC"><circle class="hub" cx="315" cy="128" r="19.5"/><text x="340" y="135.5">UBC</text></g>
<g id="IRF1"><circle class="hub" cx="122" cy="231" r="17"/><text x="146" y="238.5">IRF1</text></g>
<g id="PRKCD"><circle class="hub" cx="875" cy="371" r="17"/><text x="897" y="378.5">PRKCD</text></g>
<g id="TRIM25"><circle class="hub2" cx="432" cy="582" r="13.5"/><text x="452" y="589.5">TRIM25</text></g>
<g id="hub-unlabelled"><circle class="hub3" cx="827" cy="595" r="12"/></g>
<g id="YWHAB"><circle class="hub" cx="225" cy="684" r="22"/><text x="253" y="691.5">YWHAB</text></g>
<g id="CEBPB"><circle class="hub" cx="1057" cy="712" r="21"/><text x="1083" y="719.5">CEBPB</text></g>
<g id="HLA-C"><circle class="hub" cx="517" cy="948" r="20"/><text x="543" y="955.5">HLA-C</text></g>
</svg>
